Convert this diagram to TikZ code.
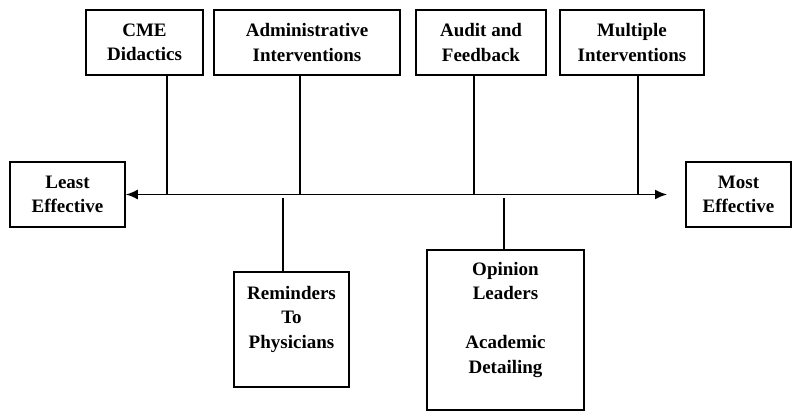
\documentclass[tikz,border=0pt]{standalone}
\usepackage{fontspec}
\setmainfont{Liberation Serif}
\usetikzlibrary{
    arrows.meta,
    positioning,
    calc
}

\tikzset{
  stepbox/.style={
    draw,
    line width=1.6pt,
    inner sep=0pt,
    align=center,
    font=\fontsize{19}{24.5}\selectfont\bfseries
  },
  stub/.style={line width=1.6pt}
}

\begin{document}
\begin{tikzpicture}[x=1pt, y=-1pt]

  \useasboundingbox (0,0) rectangle (792,411);

  % top row {{{
  \node[
    stepbox,
    minimum width=117pt,
    minimum height=65pt
  ] (cme) at (144.5,42.5)
  {CME\\Didactics};

  \node[
    stepbox,
    minimum width=186pt,
    minimum height=65pt
  ] (admin) at (307,42.5)
  {Administrative\\Interventions};

  \node[
    stepbox,
    minimum width=130pt,
    minimum height=65pt
  ] (audit) at (481,42.5)
  {Audit and\\Feedback};

  \node[
    stepbox,
    minimum width=144pt,
    minimum height=65pt
  ] (multi) at (632,42.5)
  {Multiple\\Interventions};
  % }}}

  % ends of the scale {{{
  \node[
    stepbox,
    minimum width=115pt,
    minimum height=65pt
  ] (least) at (67.5,194.5)
  {Least\\Effective};

  \node[
    stepbox,
    minimum width=105pt,
    minimum height=65pt
  ] (most) at (738.5,194.5)
  {Most\\Effective};
  % }}}

  % bottom row {{{
  \node[
    stepbox,
    minimum width=115pt,
    minimum height=115pt
  ] (remind) at (291.5,329.5)
  {Reminders\\To\\Physicians\\ };

  \node[
    stepbox,
    minimum width=157pt,
    minimum height=160pt
  ] (opinion) at (505.5,330)
  {Opinion\\Leaders\\ \\Academic\\Detailing\\ };
  % }}}

  % scale {{{
  \coordinate (tip) at (667,194.5);
  \draw[stub, {Latex[length=12pt,width=10pt]}-{Latex[length=12pt,width=10pt]}]
    (least.east) -- (tip);
  % }}}

  % stubs {{{
  \coordinate (s1) at (167,194.5);
  \coordinate (s2) at (300,194.5);
  \coordinate (s3) at (474,194.5);
  \coordinate (s4) at (638,194.5);
  \coordinate (s5) at (283,198);
  \coordinate (s6) at (504,198);

  \draw[stub] (cme.south -| s1) -- (s1);
  \draw[stub] (admin.south -| s2) -- (s2);
  \draw[stub] (audit.south -| s3) -- (s3);
  \draw[stub] (multi.south -| s4) -- (s4);
  \draw[stub] (s5) -- (remind.north -| s5);
  \draw[stub] (s6) -- (opinion.north -| s6);
  % }}}

\end{tikzpicture}
\end{document}
